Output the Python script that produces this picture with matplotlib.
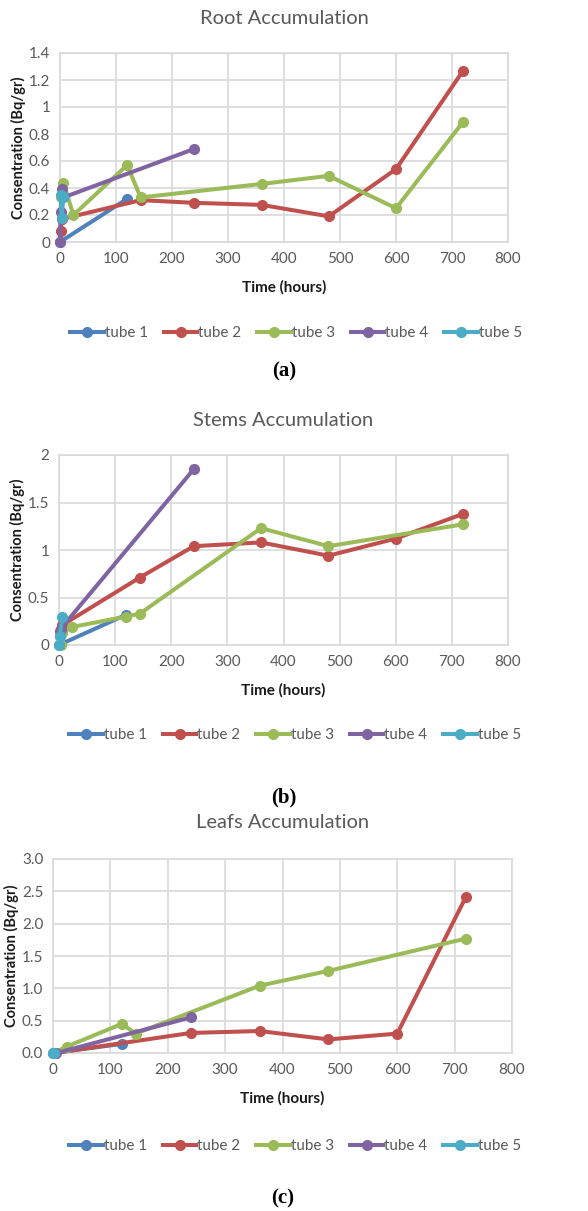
import matplotlib
matplotlib.use("Agg")
import matplotlib.pyplot as plt
from matplotlib.lines import Line2D

W, H = 588, 1211
DPI = 100

tubes = ["tube 1", "tube 2", "tube 3", "tube 4", "tube 5"]
colors = ["#4F81BD", "#C0504D", "#9BBB59", "#8064A2", "#4BACC6"]

# ---- Root accumulation (a) ----
root_t1_x = [0, 120]
root_t1_y = [0.0, 0.32]
root_t2_x = [1, 3, 144, 240, 360, 480, 600, 720]
root_t2_y = [0.08, 0.17, 0.31, 0.29, 0.275, 0.19, 0.54, 1.27]
root_t3_x = [1, 6, 24, 120, 144, 360, 480, 600, 720]
root_t3_y = [0.33, 0.44, 0.20, 0.57, 0.33, 0.43, 0.49, 0.25, 0.89]
root_t4_x = [0, 1, 3, 6, 240]
root_t4_y = [0.0, 0.22, 0.39, 0.33, 0.69]
root_t5_x = [1, 3, 6]
root_t5_y = [0.35, 0.18, 0.33]

# ---- Stems accumulation (b) ----
stem_t1_x = [0, 120]
stem_t1_y = [0.0, 0.32]
stem_t2_x = [1, 6, 144, 240, 360, 480, 600, 720]
stem_t2_y = [0.15, 0.21, 0.71, 1.04, 1.08, 0.94, 1.12, 1.38]
stem_t3_x = [3, 6, 24, 120, 144, 360, 480, 720]
stem_t3_y = [0.0, 0.13, 0.19, 0.30, 0.33, 1.23, 1.04, 1.27]
stem_t4_x = [1, 3, 240]
stem_t4_y = [0.10, 0.17, 1.85]
stem_t5_x = [0, 1, 6]
stem_t5_y = [0.0, 0.09, 0.29]

# ---- Leafs accumulation (c) ----
leaf_t1_x = [0, 120]
leaf_t1_y = [0.0, 0.14]
leaf_t2_x = [3, 240, 360, 480, 600, 720]
leaf_t2_y = [0.0, 0.31, 0.34, 0.21, 0.30, 2.42]
leaf_t3_x = [1, 24, 120, 144, 360, 480, 720]
leaf_t3_y = [0.0, 0.10, 0.45, 0.30, 1.04, 1.27, 1.77]
leaf_t4_x = [6, 240]
leaf_t4_y = [0.0, 0.55]
leaf_t5_x = [0, 1]
leaf_t5_y = [0.0, 0.0]

x_ticks = [0, 100, 200, 300, 400, 500, 600, 700, 800]
root_yticks = [0, 0.2, 0.4, 0.6, 0.8, 1.0, 1.2, 1.4]
root_ylabels = ["0", "0.2", "0.4", "0.6", "0.8", "1", "1.2", "1.4"]
stem_yticks = [0, 0.5, 1.0, 1.5, 2.0]
stem_ylabels = ["0", "0.5", "1", "1.5", "2"]
leaf_yticks = [0, 0.5, 1.0, 1.5, 2.0, 2.5, 3.0]
leaf_ylabels = ["0.0", "0.5", "1.0", "1.5", "2.0", "2.5", "3.0"]

plt.rcParams['font.family'] = ['Lato', 'DejaVu Sans']

fig = plt.figure(figsize=(W / DPI, H / DPI), dpi=DPI)
fig.patch.set_facecolor("white")

GRAY = "#595959"
GRID = "#D9D9D9"
LW = 2.9
MS = 7


def px_axes(l, t, r, b):
    return fig.add_axes([l / W, 1 - b / H, (r - l) / W, (b - t) / H])


panels = [
    dict(title="Root Accumulation", box=(60, 53, 508, 242), title_y=18,
         xl_y=287, leg_y=333, leg_x=296, cap="(a)", cap_y=371,
         data=[(root_t1_x, root_t1_y), (root_t2_x, root_t2_y), (root_t3_x, root_t3_y),
               (root_t4_x, root_t4_y), (root_t5_x, root_t5_y)],
         yticks=root_yticks, ylabels=root_ylabels, ylim=(0, 1.4)),
    dict(title="Stems Accumulation", box=(59, 455, 508, 645), title_y=420,
         xl_y=690, leg_y=735, leg_x=295, cap="(b)", cap_y=797,
         data=[(stem_t1_x, stem_t1_y), (stem_t2_x, stem_t2_y), (stem_t3_x, stem_t3_y),
               (stem_t4_x, stem_t4_y), (stem_t5_x, stem_t5_y)],
         yticks=stem_yticks, ylabels=stem_ylabels, ylim=(0, 2)),
    dict(title="Leafs Accumulation", box=(53, 859, 512, 1053), title_y=823,
         xl_y=1098, leg_y=1146, leg_x=295, cap="(c)", cap_y=1198,
         data=[(leaf_t1_x, leaf_t1_y), (leaf_t2_x, leaf_t2_y), (leaf_t3_x, leaf_t3_y),
               (leaf_t4_x, leaf_t4_y), (leaf_t5_x, leaf_t5_y)],
         yticks=leaf_yticks, ylabels=leaf_ylabels, ylim=(0, 3)),
]

for p in panels:
    l, t, r, b = p["box"]
    ax = px_axes(l, t, r, b)
    for (xs, ys), c, name in zip(p["data"], colors, tubes):
        ax.plot(xs, ys, color=c, lw=LW, marker="o", ms=MS, label=name,
                solid_capstyle="round", clip_on=False, zorder=3)
    ax.set_xlim(0, 800)
    ax.set_ylim(*p["ylim"])
    ax.set_xticks(x_ticks)
    ax.set_xticklabels([str(v) for v in x_ticks])
    ax.set_yticks(p["yticks"])
    ax.set_yticklabels(p["ylabels"])
    ax.grid(True, color=GRID, lw=1.2)
    ax.set_axisbelow(True)
    for s in ax.spines.values():
        s.set_color(GRID)
        s.set_linewidth(1.2)
    ax.tick_params(length=0, labelsize=11, labelcolor=GRAY, pad=7)
    ax.set_ylabel("Consentration (Bq/gr)", fontsize=10.5, fontweight="bold",
                  color="#1a1a1a", labelpad=2)
    fig.text((l + r) / 2 / W, 1 - p["xl_y"] / H, "Time (hours)", ha="center",
             va="center", fontsize=11, fontweight="bold", color="#1a1a1a")
    fig.text(0.5 * (l + r) / W, 1 - p["title_y"] / H, p["title"], ha="center",
             va="center", fontsize=14.5, color=GRAY)
    handles = [Line2D([0], [0], color=c, lw=LW, marker="o", ms=MS) for c in colors]
    fig.legend(handles, tubes, loc="center", bbox_to_anchor=(p["leg_x"] / W, 1 - p["leg_y"] / H),
               ncol=5, frameon=False, fontsize=11, labelcolor=GRAY,
               handlelength=2.2, handletextpad=0.05, columnspacing=1.05,
               borderaxespad=0)
    fig.text(0.5 * (l + r) / W, 1 - p["cap_y"] / H, p["cap"], ha="center", va="center",
             fontsize=15, fontweight="bold", family=["Liberation Serif"], color="black")

fig.savefig("out.png", dpi=DPI, facecolor="white")
